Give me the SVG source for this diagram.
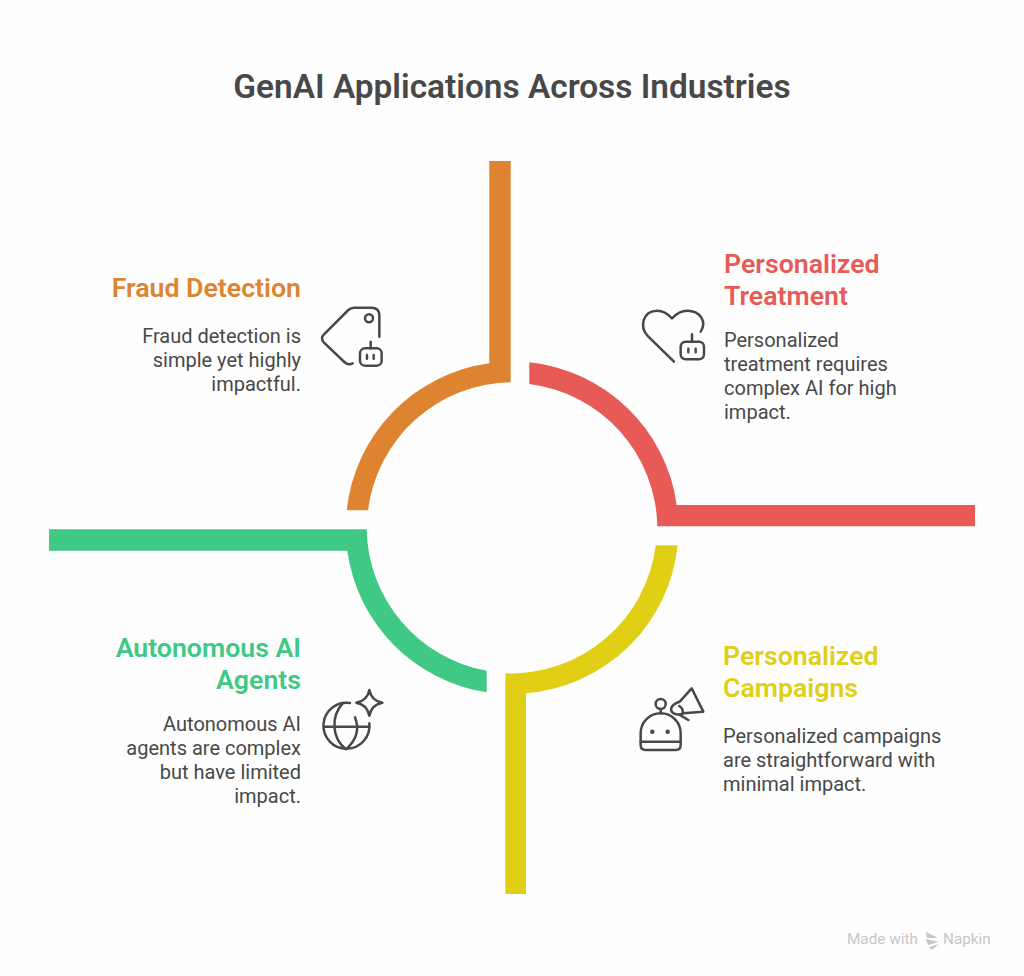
<svg xmlns="http://www.w3.org/2000/svg" width="1024" height="976" viewBox="0 0 1024 976">
<style>
text{font-family:Roboto,"Liberation Sans",sans-serif}
.title{font-size:33.4px;font-weight:600;fill:#484848}
.head{font-size:26.7px;font-weight:600}
.body{font-size:20px;fill:#484848}
.end{text-anchor:end}
.ic{fill:none;stroke:#484848;stroke-width:7.5;stroke-linecap:round;stroke-linejoin:round}
.mark{font-size:15.3px;fill:#c6c6c6;font-weight:400}
</style>
<rect width="1024" height="976" fill="#fefefe"/>
<text class="title" x="512" y="98" text-anchor="middle">GenAI Applications Across Industries</text>
<g id="connectors">
<path id="arc-fraud" fill="#de832f" d="M346.7 510.3A166 166 0 0 1 489.3 363.3V161H510.7V382.3A146 146 0 0 0 368 510.3Z"/>
<path id="arc-treatment" fill="#e75a55" d="M529.3 362.3A166 166 0 0 1 676.7 505H975V526.3H657.3A146 146 0 0 0 529.3 384Z"/>
<path id="arc-campaigns" fill="#e0cf14" d="M677.7 545.3A166 166 0 0 1 526 693.3V894H505.3V673.3A146 146 0 0 0 655.7 545.3Z"/>
<path id="arc-agents" fill="#3fc985" d="M486.7 692.3A166 166 0 0 1 347.3 550.7H49V529.3H366.7A146 146 0 0 0 486.7 670.7Z"/>
</g>
<g id="node-fraud">
<text class="head end" x="301" y="297" fill="#de832f">Fraud Detection</text>
<text class="body end" x="301" y="343">Fraud detection is</text>
<text class="body end" x="301" y="367">simple yet highly</text>
<text class="body end" x="301" y="391">impactful.</text>
<g class="ic" transform="translate(310 295) scale(.3333)">
<path d="M128 205Q115 212 103 201L42 143Q30 130 42 118L115 45Q123 38 133 38H185Q208 38 208 62V125"/>
<circle cx="177" cy="70" r="12"/>
<rect x="150" y="160" width="65" height="52" rx="15"/>
<path d="M182 140V160M171 180V191M191 180V191"/>
</g>
</g>
<g id="node-treatment">
<text class="head" x="724" y="273" fill="#e75a55">Personalized</text>
<text class="head" x="724" y="305" fill="#e75a55">Treatment</text>
<text class="body" x="724" y="347">Personalized</text>
<text class="body" x="724" y="371">treatment requires</text>
<text class="body" x="724" y="395">complex AI for high</text>
<text class="body" x="724" y="419">impact.</text>
<g class="ic" transform="translate(630 300) scale(.3333)">
<path d="M132 185L55 110C25 80 40 32 82 32C102 32 115 43 126 55C137 43 150 32 172 32C210 32 232 65 212 95"/>
<rect x="152" y="125" width="70" height="53" rx="15"/>
<path d="M186 103V125M175 146V157M197 146V157"/>
</g>
</g>
<g id="node-agents">
<text class="head end" x="301" y="657" fill="#3fc985">Autonomous AI</text>
<text class="head end" x="301" y="689" fill="#3fc985">Agents</text>
<text class="body end" x="301" y="731">Autonomous AI</text>
<text class="body end" x="301" y="755">agents are complex</text>
<text class="body end" x="301" y="779">but have limited</text>
<text class="body end" x="301" y="803">impact.</text>
<g class="ic" transform="translate(310 680) scale(.3333)">
<path d="M120 69A69 69 0 1 0 178 130"/>
<path d="M42 140H178"/>
<path d="M98 70C62 110 65 175 108 208C140 180 150 150 135 112"/>
<path d="M178 30C182 52 195 64 217 68C195 72 182 85 178 107C174 85 161 72 139 68C161 64 174 52 178 30Z"/>
</g>
</g>
<g id="node-campaigns">
<text class="head" x="723" y="665" fill="#e0cf14">Personalized</text>
<text class="head" x="723" y="697" fill="#e0cf14">Campaigns</text>
<text class="body" x="723" y="743">Personalized campaigns</text>
<text class="body" x="723" y="767">are straightforward with</text>
<text class="body" x="723" y="791">minimal impact.</text>
<g class="ic" transform="translate(630 680) scale(.3333)">
<path d="M32 160A60 60 0 0 1 152 160V195Q152 210 137 210H47Q32 210 32 195Z"/>
<path d="M32 185H152"/>
<circle cx="92" cy="72" r="15"/>
<path d="M92 87V100"/>
<circle cx="67" cy="155" r="3"/><circle cx="113" cy="155" r="3"/>
<path d="M185 25L220 95L160 100C140 108 120 100 124 84C128 72 140 70 150 64Z"/>
<path d="M148 78C158 85 160 92 158 100M148 104L175 120"/>
</g>
</g>
<g id="watermark">
<text class="mark" x="847" y="944">Made with</text>
<path d="M926 932L938 938L927 938ZM926 939L939 942L928 945ZM929 947L939 944L932 950Z" fill="#c6c6c6"/>
<text class="mark" x="943" y="944">Napkin</text>
</g>
</svg>
